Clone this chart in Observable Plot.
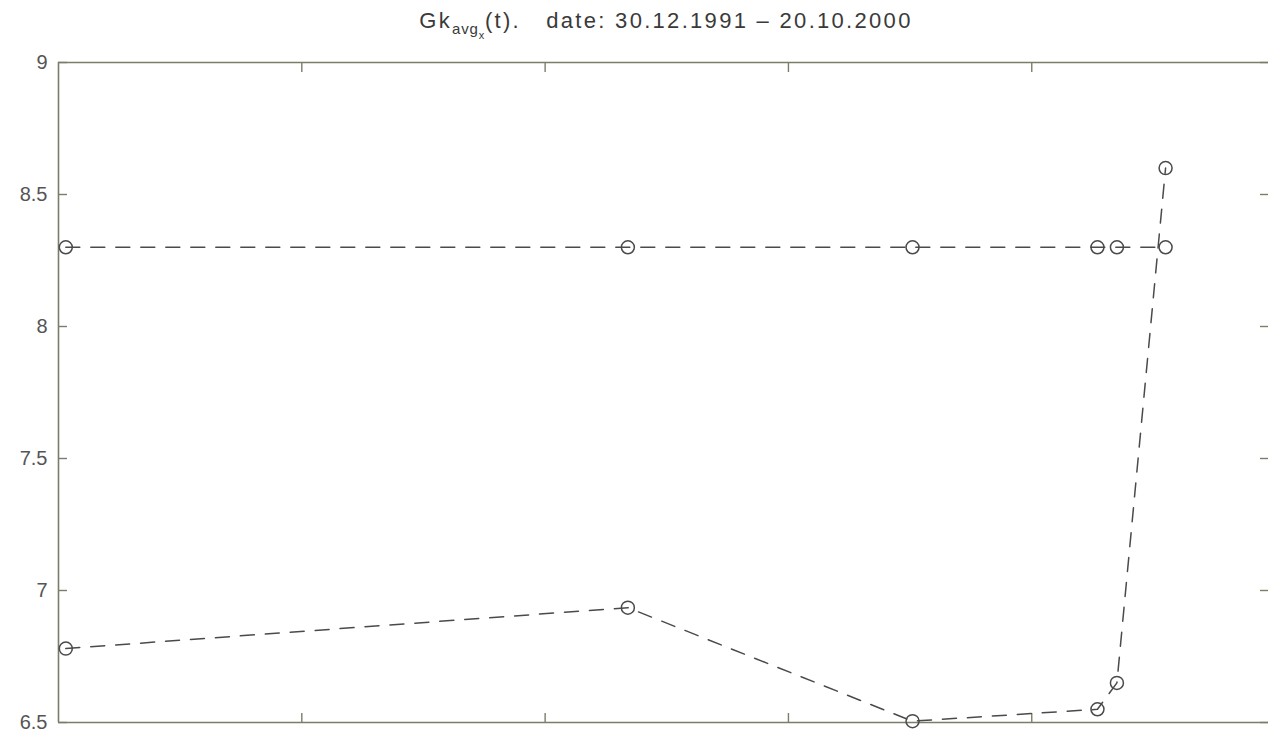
<!DOCTYPE html>
<html>
<head>
<meta charset="utf-8">
<script src="https://cdn.jsdelivr.net/npm/d3@7"></script>
<script src="https://cdn.jsdelivr.net/npm/@observablehq/plot@0.6"></script>
<style>
  html, body { margin: 0; padding: 0; background: #fff; overflow: hidden; }
  #title {
    width: 1268px; height: 46px; box-sizing: border-box;
    padding-left: 64px; text-align: center;
    font-family: "Liberation Sans", Arial, sans-serif; font-size: 22px;
    letter-spacing: 2.3px; color: #3a3a3a; line-height: 42px; white-space: pre;
  }
  #title sub { font-size: 15px; vertical-align: -6px; line-height: 0; letter-spacing: 0.8px; }
  #title sub sub { font-size: 11px; vertical-align: -5px; }
</style>
</head>
<body>
<div id="title">Gk<sub>avg<sub>x</sub></sub>(t).   date: 30.12.1991 – 20.10.2000</div>
<div id="chart"></div>
<script>
// x positions (arbitrary time units, axis labels not visible in the source)
const xValues = [0.03, 2.34, 3.51, 4.27, 4.35, 4.55];
const seriesUpper = [8.3, 8.3, 8.3, 8.3, 8.3, 8.3];
const seriesLower = [6.78, 6.935, 6.505, 6.55, 6.65, 8.6];
const yTicks = [6.5, 7, 7.5, 8, 8.5, 9];
const xTicks = [1, 2, 3, 4];
const xDomain = [0, 4.973];
const yDomain = [6.5, 9];

const rows = [
  ...xValues.map((x, i) => ({x, y: seriesUpper[i], s: "upper"})),
  ...xValues.map((x, i) => ({x, y: seriesLower[i], s: "lower"}))
];

const ink = "#4a4a4a";
const frameColor = "#7c7c6a";

const chart = Plot.plot({
  width: 1268,
  height: 687,
  marginTop: 16,
  marginBottom: 11,
  marginLeft: 58,
  marginRight: 0,
  style: {background: "#fff", fontFamily: "'Liberation Sans', Arial, sans-serif"},
  x: {domain: xDomain, ticks: xTicks},
  y: {domain: yDomain, ticks: yTicks},
  marks: [
    Plot.ruleY(yDomain, {stroke: frameColor, strokeWidth: 1.6}),
    Plot.ruleX([xDomain[0]], {stroke: frameColor, strokeWidth: 1.6}),
    Plot.axisY({anchor: "left", ticks: yTicks, tickSize: 0, tickPadding: 11, fontSize: 20, fill: "#555", label: null, tickFormat: d => String(d)}),
    Plot.axisY({anchor: "left", ticks: yTicks, tickSize: -9, fill: "none", stroke: frameColor, strokeWidth: 1.4, label: null}),
    Plot.axisY({anchor: "right", ticks: yTicks, tickSize: -9, fill: "none", stroke: frameColor, strokeWidth: 1.4, label: null}),
    Plot.axisX({anchor: "bottom", ticks: xTicks, tickSize: -9, fill: "none", stroke: frameColor, strokeWidth: 1.4, label: null}),
    Plot.axisX({anchor: "top", ticks: xTicks, tickSize: -9, fill: "none", stroke: frameColor, strokeWidth: 1.4, label: null}),
    Plot.line(rows, {x: "x", y: "y", z: "s", stroke: ink, strokeWidth: 1.5, strokeDasharray: "14,11"}),
    Plot.dot(rows, {x: "x", y: "y", r: 6.5, stroke: ink, strokeWidth: 1.5, fill: "none"})
  ]
});
document.getElementById("chart").appendChild(chart);
</script>
</body>
</html>
